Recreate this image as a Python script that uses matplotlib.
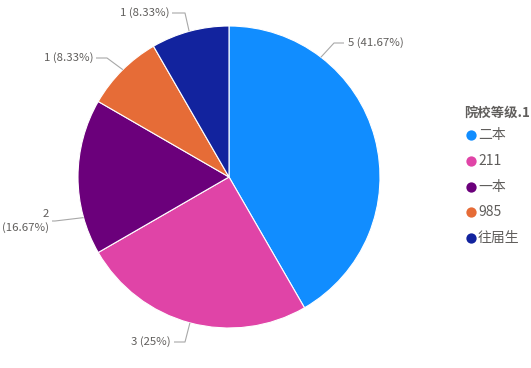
import numpy as np
import matplotlib.pyplot as plt

plt.rcParams['font.family'] = ['Noto Sans CJK SC', 'DejaVu Sans']

categories = ['二本', '211', '一本', '985', '往届生']
counts = [5, 3, 2, 1, 1]
colors = ['#118DFF', '#E044A7', '#6B007B', '#E66C37', '#12239E']
legend_title = '院校等级.1'

W, H = 531, 368
fig = plt.figure(figsize=(W / 100, H / 100), dpi=100)
ax = fig.add_axes([0, 0, 1, 1])

cx, cy, r = 229, H - 177, 151
wedges, _ = ax.pie(counts, colors=colors, startangle=90, counterclock=False,
                   center=(cx, cy), radius=r, frame=True,
                   wedgeprops=dict(edgecolor='white', linewidth=0.8))
ax.set_xlim(0, W)
ax.set_ylim(0, H)
ax.set_aspect('equal')
ax.axis('off')

total = sum(counts)
labels = []
for c in counts:
    s = f'{c / total * 100:.2f}'.rstrip('0').rstrip('.')
    labels.append(f'{c} ({s}%)')
labels[2] = labels[2].replace(' (', '\n(')

# leader layout: position along wedge, elbow point, line end (pixels, y down)
layout = [
    (0.75, (334, 43), (344, 43), 'left'),
    (0.50, (185, 342), (174, 342), 'right'),
    (0.76, (55, 221), (52, 221), 'right'),
    (0.49, (107, 58), (96, 58), 'right'),
    (0.51, (185, 13), (172, 13), 'right'),
]
lc = '#A8A8A8'
for w, lab, (frac, elbow, end, ha) in zip(wedges, labels, layout):
    ang = np.deg2rad(w.theta1 + (w.theta2 - w.theta1) * frac)
    x0 = cx + r * np.cos(ang)
    y0 = cy + r * np.sin(ang)
    ex, ey = elbow[0], H - elbow[1]
    tx, ty = end[0], H - end[1]
    ax.plot([x0, ex, tx], [y0, ey, ty], color=lc, lw=0.8, solid_capstyle='butt')
    off = 4 if ha == 'left' else -3
    ax.text(tx + off, ty, lab, ha=ha, va='center', fontsize=8.2,
            color='#605E5C', linespacing=1.25)

# legend
ax.text(464, H - 113, legend_title, fontsize=9.6, fontweight='bold',
        color='#605E5C', va='center', ha='left')
for i, (cat, col) in enumerate(zip(categories, colors)):
    y = H - (135 + i * 25.8)
    ax.scatter([471], [y], s=55, color=col, zorder=3, linewidths=0)
    ax.text(478, y, cat, fontsize=10, color='#605E5C', va='center', ha='left')

fig.savefig('out.png', dpi=100)
